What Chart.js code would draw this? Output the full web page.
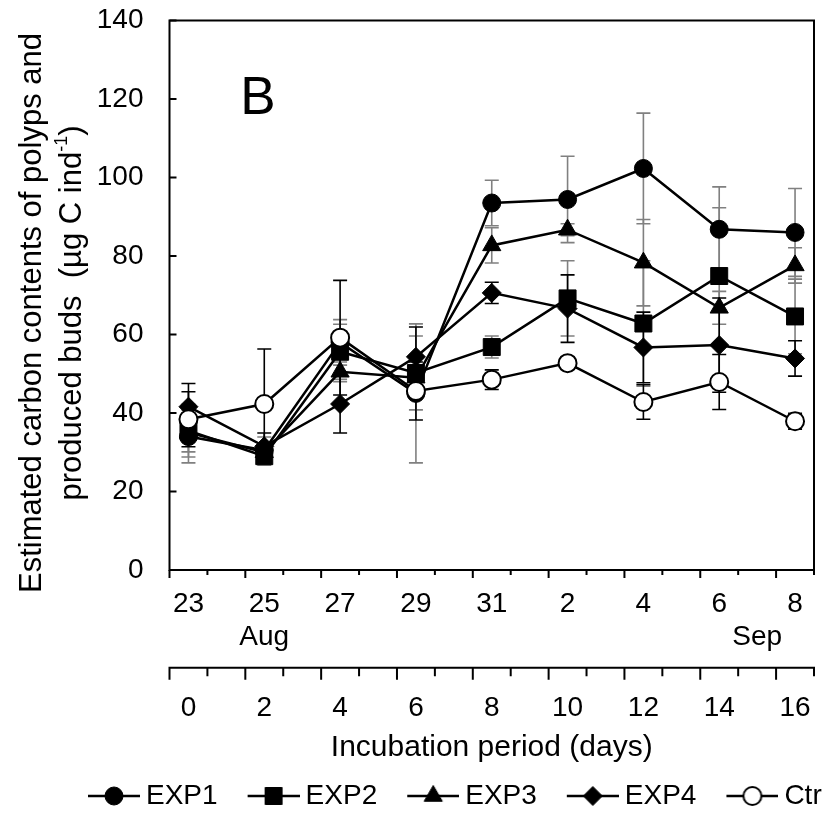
<!DOCTYPE html>
<html><head><meta charset="utf-8">
<script src="https://cdn.jsdelivr.net/npm/chart.js@4"></script>
<style>html,body{margin:0;padding:0;background:#fff}#wrap{width:839px;height:820px;position:relative}</style>
</head><body><div id="wrap"><canvas id="c"></canvas></div>
<script>
// ---- data ----
const days = [0, 2, 4, 6, 8, 10, 12, 14, 16];
const dateLabels = ['23', '25', '27', '29', '31', '2', '4', '6', '8'];
const monthNames = ['Aug', 'Sep'];
const monthDays = [2, 15];
const yTicks = [0, 20, 40, 60, 80, 100, 120, 140];
const seriesNames = ['EXP1', 'EXP2', 'EXP3', 'EXP4', 'Ctr'];
const exp1 = [34.0, 30.5, 58.0, 45.0, 93.5, 94.4, 102.3, 86.8, 86.0];
const exp1Sd = [6.7, 3.4, 5.8, 17.7, 5.8, 11.0, 14.1, 10.8, 11.2];
const exp2 = [35.5, 29.0, 55.6, 50.2, 56.8, 69.2, 62.8, 74.9, 64.6];
const exp2Sd = [6.7, 2.3, 7.0, 9.4, 2.8, 9.6, 16.0, 17.4, 9.5];
const exp3 = [35.0, 30.0, 50.5, 49.0, 82.7, 86.7, 78.3, 66.8, 77.6];
const exp3Sd = [4.9, 2.0, 2.5, 2.0, 4.5, 1.5, 11.0, 4.2, 4.5];
const exp4 = [41.6, 31.5, 42.3, 54.3, 70.6, 66.6, 56.7, 57.3, 53.9];
const exp4Sd = [5.9, 3.4, 7.4, 7.6, 2.7, 8.6, 9.0, 12.0, 4.5];
const ctr = [38.4, 42.3, 59.2, 45.6, 48.5, 52.7, 42.8, 47.9, 37.9];
const ctrSd = [7.0, 14.0, 14.6, 7.4, 2.5, 1.5, 4.4, 7.0, 2.0];
const yTitleLine1 = 'Estimated carbon contents of polyps and';
const yTitleLine2 = 'produced buds  (\u00b5g C ind';
const yTitleSup = '-1';
const xTitle = 'Incubation period (days)';
const panelLetter = 'B';

// ---- styling ----
const FONT = "'Liberation Sans', Arial, sans-serif";
Chart.defaults.font.family = FONT;
Chart.defaults.color = '#000';
const FS = 28;      // tick + legend font
const FT = 30;      // x title font
const FY = 31;      // y title font
const LEFT_PAD = 58;

function pts(vals) { return days.map((d, i) => ({x: d, y: vals[i]})); }
function mk(label, vals, sd, style, radius, bg, bw, errColor, order) {
  return {label, data: pts(vals), errorBars: sd, errorColor: errColor, order,
    borderColor: '#000', borderWidth: 2.5, tension: 0, fill: false,
    pointStyle: style, pointRadius: radius, pointHoverRadius: radius,
    pointBackgroundColor: bg, pointBorderColor: '#000', pointBorderWidth: bw};
}
const datasets = [
  mk(seriesNames[0], exp1, exp1Sd, 'circle', 9, '#000', 1, '#808080', 1),
  mk(seriesNames[1], exp2, exp2Sd, 'rect', 12, '#000', 1, '#808080', 2),
  mk(seriesNames[2], exp3, exp3Sd, 'triangle', 10.5, '#000', 1, '#808080', 3),
  mk(seriesNames[3], exp4, exp4Sd, 'rectRot', 9.5, '#000', 1, '#000', 4),
  mk(seriesNames[4], ctr, ctrSd, 'circle', 9, '#fff', 2, '#000', 0)
];

function legendIcon(ds) {
  const c = document.createElement('canvas');
  c.width = 85; c.height = 24;
  const g = c.getContext('2d');
  g.strokeStyle = '#000'; g.lineWidth = 2.5;
  g.beginPath(); g.moveTo(33, 12); g.lineTo(85, 12); g.stroke();
  g.fillStyle = ds.pointBackgroundColor; g.strokeStyle = '#000'; g.lineWidth = ds.pointBorderWidth;
  Chart.helpers.drawPoint(g, {pointStyle: ds.pointStyle, radius: ds.pointRadius, rotation: 0, borderWidth: ds.pointBorderWidth}, 59, 12);
  return c;
}

const decor = {
  id: 'decor',
  beforeDatasetsDraw(chart) {
    const {ctx} = chart; const xs = chart.scales.x, ys = chart.scales.y;
    ctx.save();
    chart.data.datasets.forEach(ds => {
      ctx.strokeStyle = ds.errorColor; ctx.lineWidth = 1.6;
      ds.data.forEach((p, j) => {
        const sd = ds.errorBars[j];
        const x = xs.getPixelForValue(p.x);
        const y1 = ys.getPixelForValue(p.y + sd), y2 = ys.getPixelForValue(p.y - sd);
        ctx.beginPath();
        ctx.moveTo(x, y1); ctx.lineTo(x, y2);
        ctx.moveTo(x - 7, y1); ctx.lineTo(x + 7, y1);
        ctx.moveTo(x - 7, y2); ctx.lineTo(x + 7, y2);
        ctx.stroke();
      });
    });
    ctx.restore();
  },
  afterDraw(chart) {
    const {ctx, chartArea: a} = chart;
    const xs = chart.scales.x, x2 = chart.scales.x2, ys = chart.scales.y;
    ctx.save();
    ctx.strokeStyle = '#000'; ctx.lineWidth = 2;
    ctx.strokeRect(a.left, a.top, a.right - a.left, a.bottom - a.top);
    ctx.beginPath();
    yTicks.forEach(v => { const y = ys.getPixelForValue(v); ctx.moveTo(a.left, y); ctx.lineTo(a.left + 7, y); });
    for (let d = -0.5; d <= 16.5; d += 1) {
      const x = xs.getPixelForValue(d);
      const major = Math.round(d + 0.5) % 2 === 0;
      ctx.moveTo(x, a.bottom); ctx.lineTo(x, a.bottom + (major ? 8 : 5));
      const t = x2.top;
      ctx.moveTo(x, t); ctx.lineTo(x, t + (major ? 12 : 8.5));
    }
    ctx.moveTo(x2.left - 1, x2.top); ctx.lineTo(x2.right + 1, x2.top);
    ctx.stroke();
    // y title
    ctx.fillStyle = '#000';
    ctx.font = FY + 'px ' + FONT;
    ctx.textBaseline = 'middle';
    ctx.translate(32, 313); ctx.rotate(-Math.PI / 2);
    ctx.textAlign = 'center';
    ctx.fillText(yTitleLine1, 0, 0);
    ctx.textAlign = 'left';
    const w2 = ctx.measureText(yTitleLine2).width;
    ctx.font = '18px ' + FONT;
    const ws = ctx.measureText(yTitleSup).width;
    ctx.font = FY + 'px ' + FONT;
    const wp = ctx.measureText(')').width;
    let sx = -(w2 + ws + wp) / 2;
    ctx.fillText(yTitleLine2, sx, 40); sx += w2;
    ctx.font = '18px ' + FONT; ctx.fillText(yTitleSup, sx, 30); sx += ws;
    ctx.font = FY + 'px ' + FONT; ctx.fillText(')', sx, 40);
    ctx.setTransform(1, 0, 0, 1, 0, 0);
    ctx.font = '53px ' + FONT; ctx.textAlign = 'center'; ctx.textBaseline = 'middle';
    ctx.fillText(panelLetter, 258, 99);
    ctx.restore();
  }
};

new Chart(document.getElementById('c'), {
  type: 'line',
  data: {datasets},
  options: {
    responsive: true, maintainAspectRatio: false, animation: false,
    layout: {padding: {left: LEFT_PAD, right: 0, top: 20.5, bottom: 0}},
    plugins: {
      tooltip: {enabled: false},
      legend: {
        position: 'bottom', align: 'start',
        labels: {
          usePointStyle: true, pointStyleWidth: 69, padding: 5,
          font: {size: FS}, color: '#000',
          generateLabels: chart => chart.data.datasets.map((ds, i) => ({
            text: ds.label, datasetIndex: i, pointStyle: legendIcon(ds), hidden: false,
            fillStyle: 'transparent', strokeStyle: 'transparent', lineWidth: 0, fontColor: '#000'
          }))
        }
      }
    },
    scales: {
      x: {
        type: 'linear', position: 'bottom', min: -0.5, max: 16.5,
        grid: {display: false, drawTicks: false}, border: {display: false},
        afterBuildTicks: s => { s.ticks = days.concat(monthDays.filter(d => days.indexOf(d) < 0)).map(v => ({value: v})); },
        ticks: {
          autoSkip: false, maxRotation: 0, padding: 17.2, font: {size: FS}, color: '#000',
          callback: v => {
            const i = days.indexOf(v), m = monthDays.indexOf(v);
            const first = i >= 0 ? dateLabels[i] : '';
            return m >= 0 ? [first, monthNames[m]] : first;
          }
        },
        afterFit: s => { s.height = 97.7; s.paddingLeft = 0; s.paddingRight = 0; }
      },
      x2: {
        type: 'linear', position: 'bottom', min: -0.5, max: 16.5,
        grid: {display: false, drawTicks: false}, border: {display: false},
        afterBuildTicks: s => { s.ticks = days.map(v => ({value: v})); },
        ticks: {autoSkip: false, maxRotation: 0, padding: 23.5, font: {size: FS}, color: '#000'},
        title: {display: true, text: xTitle, font: {size: FT}, color: '#000', padding: {top: 0, bottom: 11}},
        afterFit: s => { s.height = 109.3; s.paddingLeft = 0; s.paddingRight = 0; }
      },
      y: {
        min: 0, max: 140,
        grid: {display: false, drawTicks: false}, border: {display: false},
        afterBuildTicks: s => { s.ticks = yTicks.map(v => ({value: v})); },
        ticks: {padding: 26, font: {size: FS}, color: '#000'},
        afterFit: s => { s.width = 169.5 - LEFT_PAD; s.paddingTop = 0; s.paddingBottom = 0; }
      },
      yR: {
        position: 'right', min: 0, max: 140,
        grid: {display: false, drawTicks: false}, border: {display: false},
        ticks: {display: false},
        afterFit: s => { s.width = 25; s.paddingTop = 0; s.paddingBottom = 0; }
      }
    }
  },
  plugins: [decor]
});
</script>
</body></html>
